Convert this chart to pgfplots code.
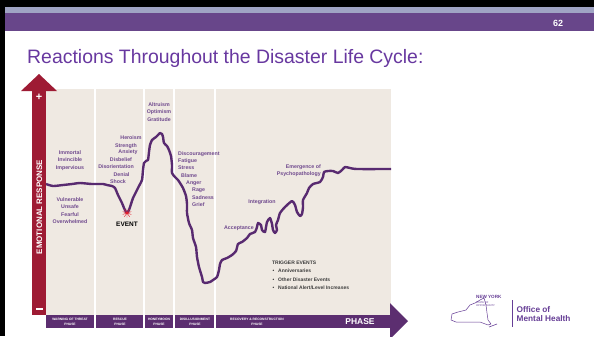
\documentclass[border=0pt]{standalone}
\usepackage{fontspec}
\setmainfont{Liberation Sans}
\usepackage{pgfplots}
\pgfplotsset{compat=1.18}
\usetikzlibrary{plotmarks}

\definecolor{hdrgray}{RGB}{160,164,196}
\definecolor{hdrpurple}{RGB}{104,70,138}
\definecolor{titlecol}{RGB}{104,56,160}
\definecolor{arrowred}{RGB}{158,27,52}
\definecolor{beige}{RGB}{239,233,226}
\definecolor{phasepurple}{RGB}{92,46,112}
\definecolor{curvecol}{RGB}{88,42,112}
\definecolor{lblcol}{RGB}{112,74,142}
\definecolor{trigcol}{RGB}{60,60,60}
\definecolor{logocol}{RGB}{102,62,150}
\definecolor{starred}{RGB}{226,30,45}

\newcommand\lf{\fontsize{5.3}{7.4}\selectfont\bfseries}
\newcommand\pf{\fontsize{3.3}{5}\selectfont\bfseries}

\begin{document}
\begin{tikzpicture}[x=1bp,y=-1bp]
\useasboundingbox (0,0) rectangle (594,336);
\fill[white] (0,0) rectangle (594,336);
\fill[black] (0,0) rectangle (594,7);
\fill[black] (0,0) rectangle (5,336);
\fill[hdrgray] (5,7) rectangle (594,13);
\fill[hdrpurple] (5,13) rectangle (594,31);
\node[white, font=\fontsize{9}{9}\selectfont\bfseries] at (558,23) {62};
\node[anchor=base west, inner sep=0, titlecol, font=\fontsize{19.5}{20}\selectfont]
  at (27,63) {Reactions Throughout the Disaster Life Cycle:};

% curve of emotional response (x, y read in pixels of the slide)
\begin{axis}[
  at={(46,315)}, anchor=south west,
  width=345bp, height=226bp, scale only axis,
  xmin=46, xmax=391, ymin=89, ymax=315, y dir=reverse,
  axis background/.style={fill=beige},
  axis line style={draw=none},
  xtick={95,144,174,215}, xticklabels={}, ytick=\empty,
  major tick length=0pt,
  xmajorgrids, major grid style={white, line width=1.8bp},
]
\addplot[curvecol, line width=2.4bp, smooth, tension=0.35, line join=round] coordinates {
  (46,184) (53,186) (63,185) (72,184) (80,183) (92,184) (103,184) (107,185)
  (112,186) (115,188) (118,195) (122,203) (124,208) (126,212) (127,213)
  (129,210) (131,204) (133,198) (136,192) (139,186) (142,180) (143,170)
  (144,163) (146,161) (148,160) (149,152) (150,145) (152,140) (156,137)
  (158,135) (160,133) (162,134) (163,137) (164,143) (167,146) (169,150)
  (171,156) (172,165) (172,173) (175,177) (178,180) (180,183) (183,188)
  (186,196) (187,204) (187,213) (189,223) (192,230) (193,238) (196,247)
  (197,257) (199,267) (202,277) (203,282) (205,283) (210,282) (213,280)
  (217,277) (219,270) (220,264) (222,260) (227,258) (232,255) (236,251)
  (238,244) (242,242) (247,238) (250,234) (255,232) (257,227) (258,223)
  (261,225) (262,230) (265,232) (267,222) (270,218) (272,224) (273,230)
  (275,233) (277,230) (276,225) (278,220) (280,213) (285,207) (292,201)
  (295,205) (297,212) (300,216) (302,214) (303,207) (303,200) (307,193)
  (309,188) (313,184) (320,182) (323,177) (324,172) (328,171) (333,171)
  (338,173) (342,170) (345,167) (350,168) (357,169) (391,169)
};
\addplot[only marks, mark=10-pointed star, mark size=4.5bp, draw=starred, fill=starred]
  coordinates {(127,213)};
\end{axis}

% phase bar
\fill[phasepurple] (46,315) rectangle (94,328);
\fill[phasepurple] (96,315) rectangle (143,328);
\fill[phasepurple] (145,315) rectangle (173,328);
\fill[phasepurple] (175,315) rectangle (214,328);
\fill[phasepurple] (216,315) rectangle (391,328) -- cycle;
\fill[phasepurple] (390,303) -- (408,321) -- (390,339) -- cycle;
\node[white, align=center, font=\pf, inner sep=0] at (70,321.5) {WARNING OF THREAT\\PHASE};
\node[white, align=center, font=\pf, inner sep=0] at (120,321.5) {RESCUE\\PHASE};
\node[white, align=center, font=\pf, inner sep=0] at (159,321.5) {HONEYMOON\\PHASE};
\node[white, align=center, font=\pf, inner sep=0] at (195,321.5) {DISILLUSIONMENT\\PHASE};
\node[white, align=center, font=\pf, inner sep=0] at (257,321.5) {RECOVERY \& RECONSTRUCTION\\PHASE};
\node[white, font=\fontsize{8.5}{9}\selectfont\bfseries] at (360,322) {PHASE};

% emotional response arrow
\fill[arrowred] (32,91) rectangle (46,315);
\fill[arrowred] (21,91) -- (39,74) -- (57,91) -- cycle;
\node[white, rotate=90, font=\fontsize{8}{8}\selectfont\bfseries] at (39.5,207) {EMOTIONAL RESPONSE};
\node[white, font=\fontsize{11}{11}\selectfont\bfseries] at (39,97) {+};
\fill[white] (35.5,308) rectangle (42.5,310);

% labels
\begin{scope}[lblcol, every node/.style={font=\lf, inner sep=0}]
\node[align=center] at (70,160.5) {Immortal\\Invincible\\Impervious};
\node[align=center] at (70,210.5) {Vulnerable\\Unsafe\\Fearful\\Overwhelmed};
\node at (131,137.7) {Heroism};
\node at (126,145.7) {Strength};
\node at (128,152.3) {Anxiety};
\node at (121,160) {Disbelief};
\node at (116,166.7) {Disorientation};
\node at (121.5,174.3) {Denial};
\node at (118,181.7) {Shock};
\node[align=center] at (159,112) {Altruism\\Optimism\\Gratitude};
\node[anchor=west] at (178,154) {Discouragement};
\node[anchor=west] at (178,161) {Fatigue};
\node[anchor=west] at (178,168) {Stress};
\node[anchor=west] at (181,176) {Blame};
\node[anchor=west] at (186,183) {Anger};
\node[anchor=west] at (192,190) {Rage};
\node[anchor=west] at (192,198) {Sadness};
\node[anchor=west] at (192,205) {Grief};
\node[anchor=east] at (321,167) {Emergence of};
\node[anchor=east] at (321,174) {Psychopathology};
\node at (262,202) {Integration};
\node[anchor=east] at (254,228) {Acceptance};
\end{scope}
\node[black, font=\fontsize{6.5}{7}\selectfont\bfseries] at (127,224) {EVENT};

\begin{scope}[trigcol, every node/.style={font=\fontsize{5}{6}\selectfont\bfseries, inner sep=0, anchor=west}]
\node at (272,263) {TRIGGER EVENTS};
\node at (272.5,271) {•}; \node at (278,271) {Anniversaries};
\node at (272.5,280) {•}; \node at (278,280) {Other Disaster Events};
\node at (272.5,288) {•}; \node at (278,288) {National Alert/Level Increases};
\end{scope}

% logo
\draw[logocol, line width=0.5bp, line join=round]
  (451,320) -- (452,314) -- (458,312) -- (466,310) -- (470,305) -- (475,303)
  -- (480,300) -- (484,298) -- (486,305) -- (487,313) -- (488,320) -- (491,324)
  -- (488,325) -- (480,322) -- (468,322) -- (456,322) -- cycle;
\draw[logocol, line width=0.6bp] (489,327) -- (497,324);
\node[logocol, anchor=west, inner sep=0, font=\fontsize{4.6}{5}\selectfont\bfseries] at (476,297) {NEW YORK};
\node[logocol, anchor=west, inner sep=0, align=left, font=\fontsize{2.6}{3.2}\selectfont] at (476,304.5) {STATE OF\\OPPORTUNITY.};
\draw[logocol, line width=0.5bp] (512,300) -- (512,327);
\node[logocol, anchor=west, inner sep=0, align=left, font=\fontsize{8.3}{9.8}\selectfont\bfseries] at (516.5,314) {Office of\\Mental Health};
\end{tikzpicture}
\end{document}
